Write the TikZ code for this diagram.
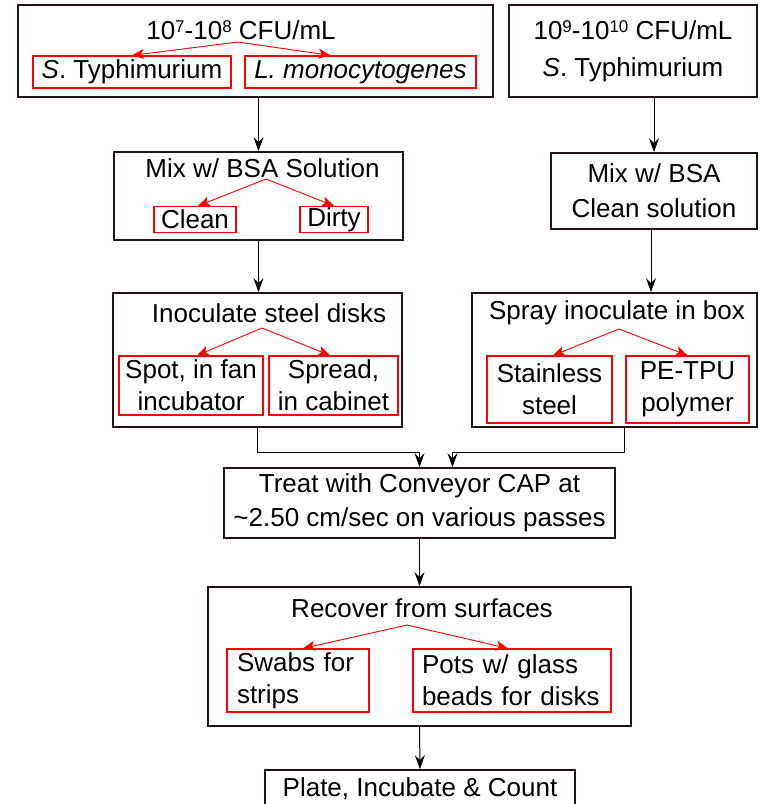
\documentclass[tikz,border=0pt]{standalone}
\usepackage{fontspec}
\setmainfont{Liberation Sans}
\usetikzlibrary{arrows.meta}
\definecolor{boxline}{RGB}{35,20,20}
\newcommand{\supnum}[1]{\raisebox{7pt}{\fontsize{17}{17}\selectfont #1}}
\tikzset{
  stage/.style={draw=boxline, line width=1.8pt, inner sep=0pt, align=center},
  pick/.style={draw=red, line width=1.2pt, inner sep=0pt, align=center},
  flow/.style={-{Stealth[length=14pt,width=10pt,inset=5pt]}, line width=1pt},
  split/.style={red, -{Stealth[length=12pt,width=10pt,inset=3pt]}, line width=0.9pt}
}
\begin{document}
\begin{tikzpicture}[x=1pt, y=-1pt, font=\fontsize{26}{32}\selectfont]
\fill[white] (0,0) rectangle (761,804);
\useasboundingbox (0,0) rectangle (761,804);
% first culture
\node[stage, minimum width=475pt, minimum height=92pt] (src1) at (255.5,51) {};
\node (t1) at (241,30) {10\supnum{7}-10\supnum{8} CFU/mL};
\node[pick, minimum width=198pt, minimum height=32pt] (s1a) at (132,72) {\textit{S}. Typhimurium};
\node[pick, minimum width=231pt, minimum height=32pt] (s1b) at (360.5,72) {\textit{L. monocytogenes}};
\coordinate (f1) at (238,42);
\draw[split] (f1) -- (s1a.north);
\draw[split] (f1) -- ([xshift=-30pt]s1b.north);
% second culture
\node[stage, minimum width=248pt, minimum height=92pt] (src2) at (633,51)
  {10\supnum{9}-10\supnum{10} CFU/mL\\[5pt]\textit{S}. Typhimurium};
% mixing
\node[stage, minimum width=289pt, minimum height=88pt] (mix1) at (258.5,196) {};
\node (t2) at (262.5,168) {Mix w/ BSA Solution};
\node[pick, minimum width=82pt, minimum height=26pt] (clean) at (195,219.5) {Clean};
\node[pick, minimum width=68pt, minimum height=26pt] (dirty) at (334,219.5) {Dirty};
\coordinate (f2) at (266,179);
\draw[split] (f2) -- ([xshift=3pt]clean.north);
\draw[split] (f2) -- (dirty.north);
\node[stage, minimum width=206pt, minimum height=76pt] (mix2) at (654,191)
  {Mix w/ BSA\\[3pt]Clean solution};
% inoculation
\node[stage, minimum width=289pt, minimum height=134pt] (inoc) at (257.5,360) {};
\node (t3) at (269,313) {Inoculate steel disks};
\node[pick, minimum width=144pt, minimum height=59pt] (spot) at (191,385.5) {Spot, in fan\\incubator};
\node[pick, minimum width=129pt, minimum height=59pt] (spread) at (333.5,385.5) {Spread,\\in cabinet};
\coordinate (f3) at (262,328);
\draw[split] (f3) -- ([xshift=6pt]spot.north);
\draw[split] (f3) -- ([xshift=-3.5pt]spread.north);
\node[stage, minimum width=285pt, minimum height=134pt] (spray) at (614.5,360) {};
\node (t4) at (617,313) {Spray inoculate in box};
\node[pick, minimum width=125pt, minimum height=67pt] (steel) at (549.5,389.5) {Stainless\\steel};
\node[pick, minimum width=123pt, minimum height=67pt] (poly) at (687.5,389.5) {PE-TPU\\polymer};
\coordinate (f4) at (619,329);
\draw[split] (f4) -- ([xshift=3.5pt]steel.north);
\draw[split] (f4) -- (poly.north);
% treatment and recovery
\node[stage, minimum width=391pt, minimum height=70pt] (treat) at (419.5,503)
  {Treat with Conveyor CAP at\\[2pt]\textasciitilde2.50 cm/sec on various passes};
\node[stage, minimum width=423pt, minimum height=139pt] (recov) at (419.5,656.5) {};
\node (t5) at (422,608) {Recover from surfaces};
\node[pick, minimum width=142pt, minimum height=63pt, text width=122pt, align=left] (swab) at (298,680.5) {Swabs for\\strips};
\node[pick, minimum width=198pt, minimum height=63pt, text width=180pt, align=left] (pots) at (512,680.5) {Pots w/ glass\\beads for disks};
\coordinate (f5) at (407,625);
\draw[split] (f5) -- ([xshift=5pt]swab.north);
\draw[split] (f5) -- ([xshift=-4pt]pots.north);
\node[stage, minimum width=310pt, minimum height=38pt] (plate) at (420,789) {Plate, Incubate \& Count};
% connectors
\draw[flow] (src1.south -| mix1.north) -- (mix1.north);
\draw[flow] (src2.south -| mix2.north) -- (mix2.north);
\draw[flow] (mix1.south) -- (mix1.south |- inoc.north);
\draw[flow] ([xshift=-3pt]mix2.south) -- ([xshift=-3pt]mix2.south |- spray.north);
\draw[flow] (inoc.south) -- ++(0,25) -| (treat.north);
\draw[flow] ([xshift=10pt]spray.south) -- ++(0,25) -| ([xshift=33pt]treat.north);
\draw[flow] (treat.south) -- (recov.north);
\draw[flow] (recov.south) -- (plate.north);
\end{tikzpicture}
\end{document}
